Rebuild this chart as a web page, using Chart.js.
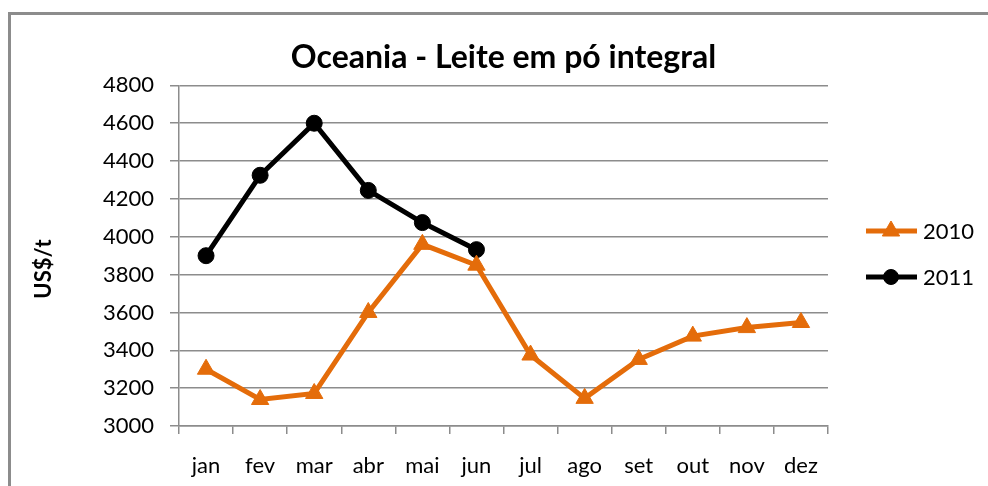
<!DOCTYPE html>
<html>
<head>
<meta charset="utf-8">
<script src="https://cdn.jsdelivr.net/npm/chart.js@4"></script>
<style>
    html, body { margin: 0; padding: 0; background: #fff; overflow: hidden; }
    #wrap { position: relative; width: 988px; height: 486px; }
    #moldura {
        position: absolute; left: 8px; top: 12px; width: 1000px; height: 500px;
        border: 3px solid #8c8c8c; box-sizing: border-box;
    }
    #grafico { position: absolute; left: 0; top: 0; }
</style>
</head>
<body>
<div id="wrap">
    <div id="moldura"></div>
    <canvas id="grafico" width="988" height="486"></canvas>
</div>
<script>
    // Dados (US$/t)
    const meses = ['jan', 'fev', 'mar', 'abr', 'mai', 'jun', 'jul', 'ago', 'set', 'out', 'nov', 'dez'];
    const valores2010 = [3300, 3140, 3172, 3600, 3960, 3850, 3375, 3146, 3352, 3475, 3520, 3547];
    const valores2011 = [3900, 4325, 4600, 4245, 4075, 3932];
    const eixoYMin = 3000;
    const eixoYMax = 4800;
    const eixoYPasso = 200;

    const fonte = 'Lato, "Open Sans", sans-serif';
    const laranja = '#E46C0A';
    const preto = '#000000';
    const cinza = '#8c8c8c';

    // Legenda desenhada à mão (linha + marcador, como no Excel)
    const legendaPlugin = {
        id: 'legendaExcel',
        afterDraw(chart) {
            const ctx = chart.ctx;
            const itens = [
                { texto: '2010', cor: laranja, estilo: 'triangle', raio: 10, y: 231 },
                { texto: '2011', cor: preto, estilo: 'circle', raio: 7.5, y: 277 }
            ];
            ctx.save();
            itens.forEach(item => {
                ctx.strokeStyle = item.cor;
                ctx.fillStyle = item.cor;
                ctx.lineWidth = 5;
                ctx.beginPath();
                ctx.moveTo(866, item.y);
                ctx.lineTo(917, item.y);
                ctx.stroke();
                ctx.lineWidth = 1;
                Chart.helpers.drawPoint(ctx, { pointStyle: item.estilo, radius: item.raio, rotation: 0, borderWidth: 1 }, 891, item.y);
                ctx.fillStyle = '#000';
                ctx.font = '22px ' + fonte;
                ctx.textBaseline = 'middle';
                ctx.textAlign = 'left';
                ctx.fillText(item.texto, 923, item.y + 1);
            });
            ctx.restore();
        }
    };

    new Chart(document.getElementById('grafico'), {
        type: 'line',
        data: {
            labels: meses,
            datasets: [
                {
                    label: '2010',
                    data: valores2010,
                    borderColor: laranja,
                    backgroundColor: laranja,
                    borderWidth: 5,
                    pointStyle: 'triangle',
                    pointRadius: 10,
                    pointBorderWidth: 1,
                    tension: 0
                },
                {
                    label: '2011',
                    data: valores2011,
                    borderColor: preto,
                    backgroundColor: preto,
                    borderWidth: 5,
                    pointStyle: 'circle',
                    pointRadius: 8,
                    pointBorderWidth: 1,
                    tension: 0
                }
            ]
        },
        options: {
            responsive: false,
            animation: false,
            layout: {
                padding: { left: 10, right: 160, top: 10, bottom: 6 }
            },
            scales: {
                x: {
                    offset: true,
                    afterFit(scale) { scale.height = 54; },
                    grid: {
                        offset: true,
                        drawOnChartArea: false,
                        drawTicks: true,
                        tickLength: 8,
                        color: cinza,
                        lineWidth: 1.5
                    },
                    border: { display: true, color: cinza, width: 1.5 },
                    ticks: {
                        color: '#000',
                        padding: 19,
                        font: { family: fonte, size: 22 },
                        maxRotation: 0
                    }
                },
                y: {
                    min: eixoYMin,
                    max: eixoYMax,
                    afterFit(scale) { scale.width = 169; },
                    grid: {
                        color: cinza,
                        lineWidth: 1.5,
                        tickLength: 9
                    },
                    border: { display: true, color: cinza, width: 1.5 },
                    ticks: {
                        stepSize: eixoYPasso,
                        color: '#000',
                        padding: 16,
                        font: { family: fonte, size: 22 },
                        callback: function(valor) { return String(valor); }
                    },
                    title: {
                        display: true,
                        text: 'US$/t     ',
                        color: '#000',
                        padding: { top: 21, bottom: 0 },
                        font: { family: fonte, size: 22, weight: 'bold' }
                    }
                }
            },
            plugins: {
                legend: { display: false },
                tooltip: { enabled: false },
                title: {
                    display: true,
                    fullSize: false,
                    text: 'Oceania - Leite em pó integral',
                    color: '#000',
                    padding: { top: 28, bottom: 9 },
                    font: { family: fonte, size: 32, weight: 'bold' }
                }
            }
        },
        plugins: [legendaPlugin]
    });
</script>
</body>
</html>
